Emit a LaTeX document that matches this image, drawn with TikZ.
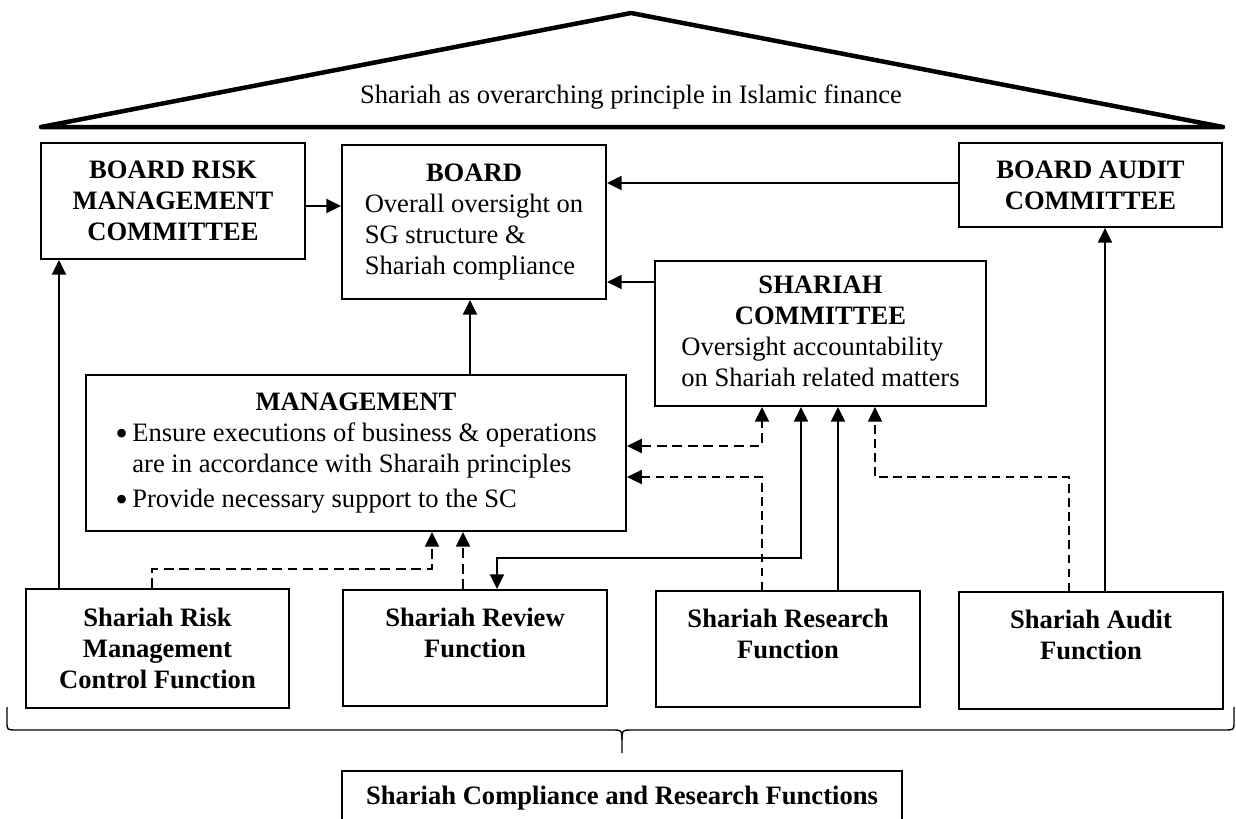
\documentclass[tikz,border=0pt]{standalone}
\usepackage{fontspec}
\setmainfont{Liberation Serif}
\usetikzlibrary{arrows.meta}

\tikzset{
  box/.style={draw, line width=1.3pt, inner sep=0pt, align=center,
    font=\fontsize{18.9}{22}\selectfont},
  boldbox/.style={box, font=\fontsize{18.9}{22}\selectfont\bfseries},
  Head/.tip={Triangle[length=10.5pt,width=10pt]},
  link/.style={line width=1.4pt, -Head},
  link2/.style={line width=1.4pt, Head-Head},
  dlink/.style={line width=1.4pt, dash pattern=on 7pt off 4pt, -Head},
  dlink2/.style={dlink, Head-Head},
  tlink/.style={line width=0.9pt, dash pattern=on 6pt off 4pt, -Head},
}
\newcommand{\blt}{\raisebox{-2.5pt}{\scalebox{1.35}{\textbullet}}}

\begin{document}
\begin{tikzpicture}[x=0.025cm, y=-0.025cm]
\useasboundingbox (0,0) rectangle (1236,818);
\coordinate (eaveL) at (41,127);
\coordinate (ridge) at (631,13);
\coordinate (eaveR) at (1223,127);
% roof
\draw[line width=3.2pt, line join=round, line cap=round] (eaveL) -- (ridge) -- (eaveR) -- cycle;
\node[font=\fontsize{18.9}{22}\selectfont] (motto) at (631,97) {Shariah as overarching principle in Islamic finance};

% boxes
\node[boldbox, minimum width=6.6cm, minimum height=2.9cm] (brmc) at (173,201) {BOARD RISK\\MANAGEMENT\\COMMITTEE};
\node[box, minimum width=6.6cm, minimum height=3.85cm] (board) at (474,222)
  {\begin{tabular}{@{}l@{}}\multicolumn{1}{@{}c@{}}{\textbf{BOARD}}\\
   Overall oversight on\\SG structure \&\\Shariah compliance\end{tabular}};
\node[boldbox, minimum width=6.575cm, minimum height=2.1cm] (bac) at (1090.5,185) {BOARD AUDIT\\COMMITTEE};
\node[box, minimum width=8.275cm, minimum height=3.625cm] (sc) at (820.5,333.5)
  {\begin{tabular}{@{}l@{}}\multicolumn{1}{@{}c@{}}{\textbf{SHARIAH}}\\
   \multicolumn{1}{@{}c@{}}{\textbf{COMMITTEE}}\\
   Oversight accountability\\on Shariah related matters\end{tabular}};
\node[box, minimum width=13.5cm, minimum height=3.9cm] (mgmt) at (356,453)
  {\begin{tabular}{@{}p{0.425cm}@{}l@{}}\multicolumn{2}{@{}c@{}}{\textbf{MANAGEMENT}}\\
   \blt & Ensure executions of business \& operations\\
        & are in accordance with Sharaih principles\\[3pt]
   \blt & Provide necessary support to the SC\end{tabular}};

\node[boldbox, minimum width=6.575cm, minimum height=2.975cm] (srmcf) at (157.5,648.5) {Shariah Risk\\Management\\Control Function};
\node[boldbox, minimum width=6.6cm, minimum height=2.9cm] (srf) at (475,648) {Shariah Review\\Function\\\mbox{}};
\node[boldbox, minimum width=6.6cm, minimum height=2.9cm] (sresf) at (788,649) {Shariah Research\\Function\\\mbox{}};
\node[boldbox, minimum width=6.6cm, minimum height=2.925cm] (saf) at (1091,650.5) {Shariah Audit\\Function\\\mbox{}};
\node[boldbox, minimum width=14cm, minimum height=1.35cm] (scrf) at (622,798) {Shariah Compliance and Research Functions};

% solid links
\draw[link] (brmc.east |- 0,206) -- (board.west |- 0,206);
\draw[link] (bac.west |- 0,183) -- (board.east |- 0,183);
\draw[link] (sc.west |- 0,282) -- (board.east |- 0,282);
\draw[link] (mgmt.north -| 470,0) -- (board.south -| 470,0);
\draw[link] (srmcf.north -| 59,0) -- (brmc.south -| 59,0);
\draw[link] (saf.north -| 1105,0) -- (bac.south -| 1105,0);
\draw[link] (sresf.north -| 838,0) -- (sc.south -| 838,0);
\draw[link2] (sc.south -| 801,0) -- (801,558) -| (srf.north -| 497,0);

% dashed links
\draw[dlink2] (mgmt.east |- 0,446) -| (sc.south -| 762,0);
\draw[tlink] (sresf.north -| 762,0) |- (mgmt.east |- 0,477);
\draw[tlink] (saf.north -| 1069,0) |- (875,477) -- (sc.south -| 875,0);
\draw[dlink] (srmcf.north -| 152,0) |- (432,569) -- (mgmt.south -| 432,0);
\draw[dlink] (srf.north -| 463,0) -- (mgmt.south -| 463,0);

% brace over the functions
\coordinate (braceL) at (7,707);
\coordinate (braceR) at (1234,707);
\coordinate (braceTip) at (622,753);
\draw[line width=1pt, line join=round] (braceL) -- (7,722) .. controls (7,730) .. (17,730) -- (612,730)
  .. controls (622,730) .. (622,740) -- (braceTip);
\draw[line width=1pt, line join=round] (braceR) -- (1234,722) .. controls (1234,730) .. (1224,730) -- (632,730)
  .. controls (622,730) .. (622,740);
\end{tikzpicture}
\end{document}
